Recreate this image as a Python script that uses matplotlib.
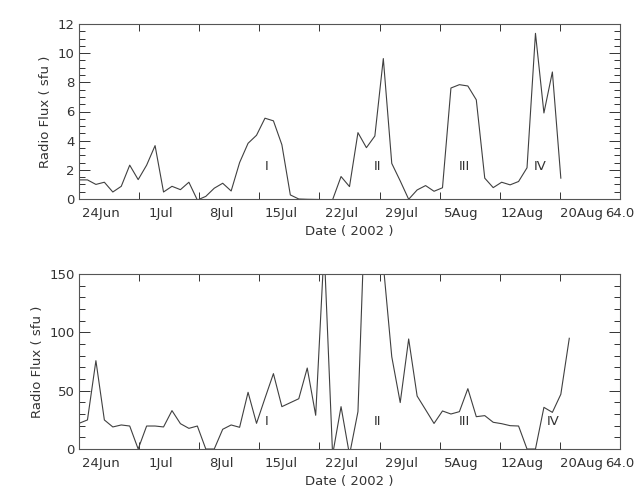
import numpy as np
import matplotlib
matplotlib.use('Agg')
import matplotlib.pyplot as plt

# data: daily values, day 0 = 24 Jun 2002
flux_top = [1.31, 1.31, 1.0, 1.15, 0.48, 0.87, 2.32, 1.33, 2.32, 3.66,
            0.48, 0.87, 0.64, 1.15, -0.07, 0.18, 0.74, 1.08, 0.55, 2.5,
            3.82, 4.37, 5.54, 5.36, 3.72, 0.28, 0.0, -0.02, -0.03, -0.04,
            -0.05, 1.54, 0.85, 4.55, 3.52, 4.32, 9.63, 2.44, 1.24, -0.02,
            0.62, 0.92, 0.53, 0.77, 7.61, 7.84, 7.75, 6.80, 1.43, 0.78,
            1.15, 0.97, 1.2, 2.14, 11.36, 5.9, 8.71, 1.43]
flux_bot = [22, 24.9, 75.7, 24.9, 18.9, 20.6, 19.7, 0, 19.7, 19.7,
            18.9, 32.9, 21.7, 17.7, 19.7, 0, 0, 16.9, 20.6, 18.6,
            48.6, 22, 43.5, 64.6, 36.3, 39.7, 43.1, 69.4, 28.9, 172,
            -5, 36.3, -5, 32, 240, 250, 158, 79.1, 39.8, 94.3,
            45.4, 33.7, 21.9, 32.6, 30, 32, 51.7, 27.7, 28.6, 22.9,
            21.7, 20, 19.7, 0, 0, 35.7, 31.4, 46.9, 94.9]
days_top = np.arange(len(flux_top))
days_bot = np.arange(len(flux_bot))

date_names = ['24Jun', '1Jul', '8Jul', '15Jul', '22Jul', '29Jul',
              '5Aug', '12Aug', '20Aug']
events = ['I', 'II', 'III', 'IV']
events_x_top = [22.2, 35.3, 45.6, 54.6]
events_x_bot = [22.2, 35.3, 45.6, 56.1]

ink = '#333333'
plt.rcParams['font.family'] = 'DejaVu Sans'
plt.rcParams['font.size'] = 9.5
plt.rcParams['text.color'] = ink
plt.rcParams['axes.labelcolor'] = ink
plt.rcParams['xtick.color'] = ink
plt.rcParams['ytick.color'] = ink

fig = plt.figure(figsize=(6.44, 5.0), dpi=100)
ax1 = fig.add_axes([79 / 644, 1 - 199 / 500, 541 / 644, 175 / 500])
ax2 = fig.add_axes([79 / 644, 1 - 449 / 500, 541 / 644, 175 / 500])


def setup(ax, ymax, ymajor, yminor, labelpad):
    ax.set_xlim(0, 64)
    ax.set_ylim(0, ymax)
    ticks = np.linspace(0, 64, 10)
    # major ticks carry the marks, the date names sit a bit to the right (minor, no mark)
    ax.set_xticks(ticks)
    ax.set_xticklabels([''] * 9 + ['64.0'])
    ax.set_xticks(ticks[:-1] + 2.6, minor=True)
    ax.set_xticklabels(date_names, minor=True)
    ax.set_yticks(np.arange(0, ymax + 0.01, ymajor))
    ax.set_yticks(np.arange(0, ymax + 0.01, yminor), minor=True)
    ax.tick_params(axis='both', which='both', direction='in', top=True, right=True,
                   labelright=False, labeltop=False, width=0.7)
    ax.tick_params(axis='x', which='major', length=5, pad=6)
    ax.tick_params(axis='x', which='minor', length=0, pad=6)
    ax.tick_params(axis='y', which='major', length=8, pad=3)
    ax.tick_params(axis='y', which='minor', length=4)
    for s in ax.spines.values():
        s.set_linewidth(0.8)
        s.set_color('#555555')
    ax.set_xlabel('Date ( 2002 )', labelpad=3)
    ax.set_ylabel('Radio Flux ( sfu )', labelpad=labelpad)


setup(ax1, 12, 2, 0.5, 4)
ax1.plot(days_top, flux_top, color='#404040', lw=0.8)
for name, x in zip(events, events_x_top):
    ax1.text(x, 2.25, name, ha='center', va='center')

setup(ax2, 150, 50, 10, 4)
ax2.plot(days_bot, flux_bot, color='#404040', lw=0.8)
for name, x in zip(events, events_x_bot):
    ax2.text(x, 23.4, name, ha='center', va='center')

plt.savefig('out.png', dpi=100)
plt.close()
